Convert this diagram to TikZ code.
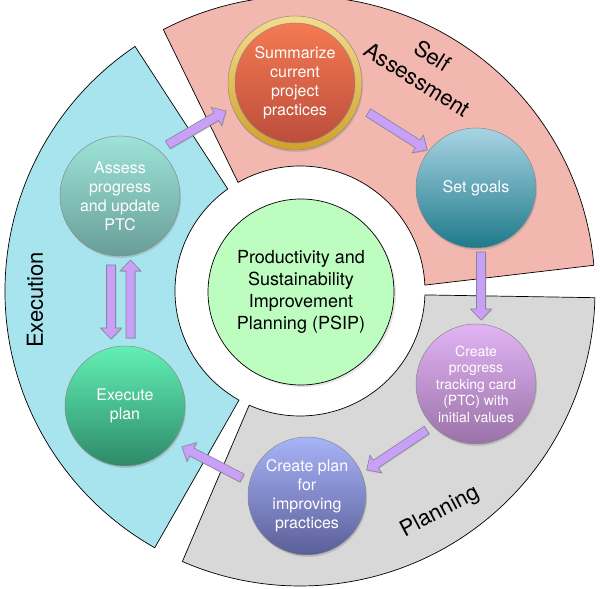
\documentclass[tikz,border=0pt]{standalone}
\usepackage{fontspec}
\setmainfont{TeX Gyre Heros}
\usetikzlibrary{calc,shadows}

\definecolor{execsec}{HTML}{A8E4EE}
\definecolor{selfsec}{HTML}{F2B8B0}
\definecolor{plansec}{HTML}{D8D8D8}
\definecolor{psipfill}{HTML}{BEFDC0}
\definecolor{arrowfill}{HTML}{C8A0F8}
\definecolor{arrowedge}{HTML}{858595}
\definecolor{circedge}{HTML}{8A8A8A}

\begin{document}
\begin{tikzpicture}[x=1pt, y=1pt, line join=round,
		stage/.style={circle, minimum size=120pt, inner sep=0pt, align=center, text=white,
			draw=circedge, line width=0.5pt, font=\fontsize{16}{19}\selectfont},
		shadowed/.style={drop shadow={shadow xshift=1pt, shadow yshift=-2pt, opacity=0.3}},
		sector/.style={draw=black, line width=0.7pt},
		phase/.style={font=\fontsize{22}{28}\selectfont, align=center},
		blockarrow/.style={draw=arrowedge, fill=arrowfill, line width=0.6pt, line join=miter,
			drop shadow={shadow xshift=0.8pt, shadow yshift=-1pt, opacity=0.35},
			to path={let \p1=(\tikztostart), \p2=(\tikztotarget),
				\n1={atan2(\y2-\y1,\x2-\x1)}, \n2={veclen(\x2-\x1,\y2-\y1)-11} in
				($(\p1)+({\n1+90}:4.5)$) -- ($(\p1)+(\n1:\n2)+({\n1+90}:4.5)$)
				-- ($(\p1)+(\n1:\n2)+({\n1+90}:10.5)$) -- (\p2)
				-- ($(\p1)+(\n1:\n2)+({\n1-90}:10.5)$) -- ($(\p1)+(\n1:\n2)+({\n1-90}:4.5)$)
				-- ($(\p1)+({\n1-90}:4.5)$) -- cycle}}]
		\useasboundingbox (0,0) rectangle (600,589);
		
		% Ring parameters
		\def\rin{125}
		\def\rout{295}
		\coordinate (O) at (300,298);
		
		% Phase sectors
		\draw[sector, fill=selfsec] ($(O)+(117.6:\rout)$) arc[start angle=117.6, end angle=5, radius=\rout pt]
			-- ($(O)+(2.7:\rin)$) arc[start angle=2.7, end angle=119.7, radius=\rin pt] -- cycle;
		\draw[sector, fill=execsec] ($(O)+(124:\rout)$) arc[start angle=124, end angle=240.5, radius=\rout pt]
			-- ($(O)+(240.8:\rin)$) arc[start angle=240.8, end angle=125.3, radius=\rin pt] -- cycle;
		\draw[sector, fill=plansec] ($(O)+(246.5:\rout)$) arc[start angle=246.5, end angle=358.7, radius=\rout pt]
			-- ($(O)+(358.2:\rin)$) arc[start angle=358.2, end angle=246, radius=\rin pt] -- cycle;
		
		% Centre
		\node[circle, minimum size=186pt, inner sep=0pt, fill=psipfill, draw=black, line width=0.7pt, align=center,
			font=\fontsize{18}{22}\selectfont, drop shadow={shadow xshift=2pt, shadow yshift=-2pt, opacity=0.2}]
			(psip) at ($(O)+(1,-1)$) {Productivity and\\Sustainability\\Improvement\\Planning (PSIP)};
		
		% Steps
		\node[stage, shadowed, top color={rgb,255:red,158;green,228;blue,216},
			bottom color={rgb,255:red,104;green,158;blue,152}] (assess) at (120,393) {Assess\\progress\\and update\\PTC};
		\node[stage, shadowed, top color={rgb,255:red,98;green,240;blue,180},
			bottom color={rgb,255:red,46;green,138;blue,106}] (exec) at (125,183) {Execute\\plan};
		\node[circle, minimum size=134pt, inner sep=0pt, draw=circedge, line width=0.5pt, shadowed,
			top color={rgb,255:red,245;green,220;blue,140}, bottom color={rgb,255:red,210;green,160;blue,40}] (summring) at (295,506) {};
		\node[stage, top color={rgb,255:red,244;green,122;blue,82},
			bottom color={rgb,255:red,188;green,78;blue,60}] (summ) at (summring) {Summarize\\current\\project\\practices};
		\node[stage, shadowed, top color={rgb,255:red,168;green,212;blue,228},
			bottom color={rgb,255:red,30;green,122;blue,138}] (goals) at (476,401) {Set goals};
		\node[stage, shadowed, font=\fontsize{14}{16.5}\selectfont, top color={rgb,255:red,226;green,180;blue,244},
			bottom color={rgb,255:red,154;green,114;blue,168}] (ptc) at (476,205) {Create\\progress\\tracking card\\(PTC) with\\initial values};
		\node[stage, shadowed, minimum size=118pt, top color={rgb,255:red,168;green,180;blue,248},
			bottom color={rgb,255:red,90;green,94;blue,152}] (plan) at (307,93) {Create plan\\for\\improving\\practices};
		
		% Phase labels
		\node[phase, rotate=90] (execlabel) at (35,289) {Execution};
		\node[phase, rotate=-32] (selflabel) at (425,521.5) {Self\\Assessment};
		\node[phase, rotate=28] (planlabel) at (440,77) {Planning};
		
		% Flow arrows
		\draw[blockarrow] ($(assess)+(47:70)$) to ($(summ)+(202:74.5)$);
		\draw[blockarrow] ($(summ)+(-22:79)$) to ($(goals)+(142:62)$);
		\draw[blockarrow] ($(goals)+(5,-64)$) to ($(ptc)+(5,64)$);
		\draw[blockarrow] ($(ptc)+(-137:67.4)$) to ($(plan)+(23.5:65)$);
		\draw[blockarrow] ($(plan)+(164.5:67.4)$) to ($(exec)+(-35.7:70)$);
		\draw[blockarrow] ($(assess)+(-9,-69)$) to ($(exec)+(-14,67)$);
		\draw[blockarrow] ($(exec)+(5.5,68)$) to ($(assess)+(10.5,-64)$);
	\end{tikzpicture}
\end{document}
